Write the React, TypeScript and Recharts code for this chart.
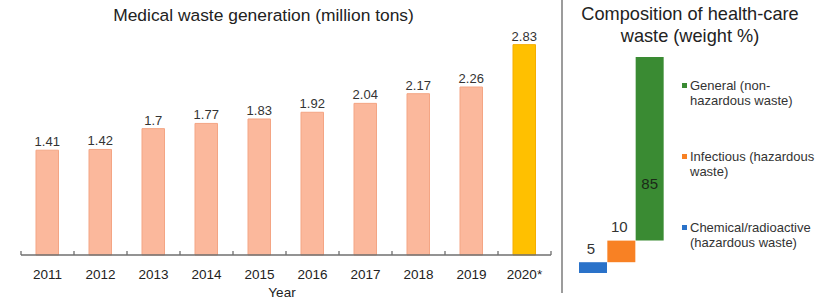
import React from "react";
import { BarChart, Bar, XAxis, YAxis, LabelList, Cell, Legend } from "recharts";

const years = ["2011", "2012", "2013", "2014", "2015", "2016", "2017", "2018", "2019", "2020*"];
const wasteMillionTons = [1.41, 1.42, 1.7, 1.77, 1.83, 1.92, 2.04, 2.17, 2.26, 2.83];

const compCategories = ["Chemical/radioactive", "Infectious", "General"];
const compValues = [5, 10, 85];
const compBases = [0, 5, 15];
const compColors = ["#2A72C9", "#F88124", "#3A8B33"];
const compLegendLines = [
  ["Chemical/radioactive", "(hazardous waste)"],
  ["Infectious (hazardous", "waste)"],
  ["General (non-", "hazardous waste)"],
];

const FONT = '"Liberation Sans", Arial, Helvetica, sans-serif';

const wasteData = years.map((y, i) => ({ year: y, value: wasteMillionTons[i] }));
const compData = compCategories.map((c, i) => ({ name: c, base: compBases[i], value: compValues[i] }));

const YearTick = (props: any) => {
  const { x, y, payload, width } = props;
  let half = 26.5;
  if (typeof width === "number" && width > 0) half = width / years.length / 2;
  else if (typeof payload.offset === "number" && payload.offset > 0) half = payload.offset;
  const axisY = y - 8;
  const isLast = payload.value === years[years.length - 1];
  return (
    <g>
      <path d={`M${x - half},${axisY}V${axisY - 4}`} stroke="#6f6f6f" strokeWidth={1.3} fill="none" />
      {isLast && <path d={`M${x + half},${axisY}V${axisY - 4}`} stroke="#6f6f6f" strokeWidth={1.3} fill="none" />}
      <text x={x} y={y + 6} dy="0.71em" textAnchor="middle" fontSize={13.5} fill="#222" fontFamily={FONT}>
        {payload.value}
      </text>
    </g>
  );
};

const YearLabel = (props: any) => {
  const vb = props.viewBox || {};
  const cx = (vb.x ?? 0) + (vb.width ?? 0) / 2;
  const top = vb.y ?? 255;
  return (
    <text x={cx - 4} y={top + 37} dy="0.355em" textAnchor="middle" fontSize={13.5} fill="#222" fontFamily={FONT}>
      Year
    </text>
  );
};

const CompLabel = (props: any) => {
  const { x, y, width, height, value, index } = props;
  const cx = x + width / 2;
  if (index === compValues.length - 1) {
    return (
      <text x={cx} y={y + height * 0.69} dy="0.355em" textAnchor="middle" fontSize={15} fill="#1b2a18" fontFamily={FONT}>
        {value}
      </text>
    );
  }
  return (
    <text x={cx - 2} y={y - 14} dy="0.355em" textAnchor="middle" fontSize={15} fill="#333" fontFamily={FONT}>
      {value}
    </text>
  );
};

const CompLegend = () => {
  const order = [2, 1, 0];
  return (
    <div style={{ fontFamily: FONT, fontSize: 13, color: "#333" }}>
      {order.map((i, k) => (
        <div key={i} style={{ position: "relative", height: 30, marginBottom: k < 2 ? 41 : 0 }}>
          <div style={{ position: "absolute", left: 1, top: 5, width: 5, height: 5, background: compColors[i] }} />
          <div style={{ position: "absolute", left: 9, top: 0, lineHeight: "15px", whiteSpace: "nowrap" }}>
            {compLegendLines[i].map((ln, j) => (
              <div key={j}>{ln}</div>
            ))}
          </div>
        </div>
      ))}
    </div>
  );
};

export default function App() {
  return (
    <div style={{ position: "absolute", left: 0, top: 0, width: 831, height: 301, background: "#fff", overflow: "hidden" }}>
      <div style={{ position: "absolute", left: 0, top: 3, width: 527, textAlign: "center", fontFamily: FONT, fontSize: 17.4, color: "#222", lineHeight: "24px" }}>
        Medical waste generation (million tons)
      </div>
      <div style={{ position: "absolute", left: 0, top: 0 }}>
        <BarChart width={560} height={301} data={wasteData} margin={{ top: 32, right: 9, left: 21, bottom: 0 }}>
          <YAxis hide domain={[0, 3]} />
          <XAxis
            dataKey="year"
            height={46}
            axisLine={{ stroke: "#6f6f6f", strokeWidth: 1.3 }}
            tickLine={false}
            tick={<YearTick />}
            interval={0}
            label={<YearLabel />}
          />
          <Bar dataKey="value" barSize={22.5} isAnimationActive={false}>
            {wasteData.map((d, i) => (
              <Cell
                key={d.year}
                fill={i === wasteData.length - 1 ? "#FFC000" : "#FBB89C"}
                stroke={i === wasteData.length - 1 ? "#F5AE00" : "#F4A584"}
                strokeWidth={1}
              />
            ))}
            <LabelList dataKey="value" position="top" offset={4} fontSize={13} fill="#333" fontFamily={FONT} />
          </Bar>
        </BarChart>
      </div>
      <div style={{ position: "absolute", left: 561, top: 0, width: 1.5, height: 293, background: "#9c9c9c" }} />
      <div style={{ position: "absolute", left: 562, top: 3, width: 256, textAlign: "center", fontFamily: FONT, fontSize: 18.2, color: "#222", lineHeight: "22px" }}>
        Composition of health-care
        <br />
        waste (weight %)
      </div>
      <div style={{ position: "absolute", left: 562, top: 0 }}>
        <BarChart width={269} height={301} data={compData} margin={{ top: 57, right: 167, left: 17, bottom: 28 }} barCategoryGap={0}>
          <XAxis dataKey="name" hide />
          <YAxis hide domain={[0, 100]} />
          <Legend
            layout="horizontal"
            verticalAlign="middle"
            align="center"
            content={<CompLegend />}
            wrapperStyle={{ left: 119, top: 78, width: 145 }}
          />
          <Bar dataKey="base" stackId="w" fill="transparent" isAnimationActive={false} legendType="none" />
          <Bar dataKey="value" stackId="w" isAnimationActive={false}>
            {compData.map((d, i) => (
              <Cell key={d.name} fill={compColors[i]} />
            ))}
            <LabelList dataKey="value" content={<CompLabel />} />
          </Bar>
        </BarChart>
      </div>
    </div>
  );
}
